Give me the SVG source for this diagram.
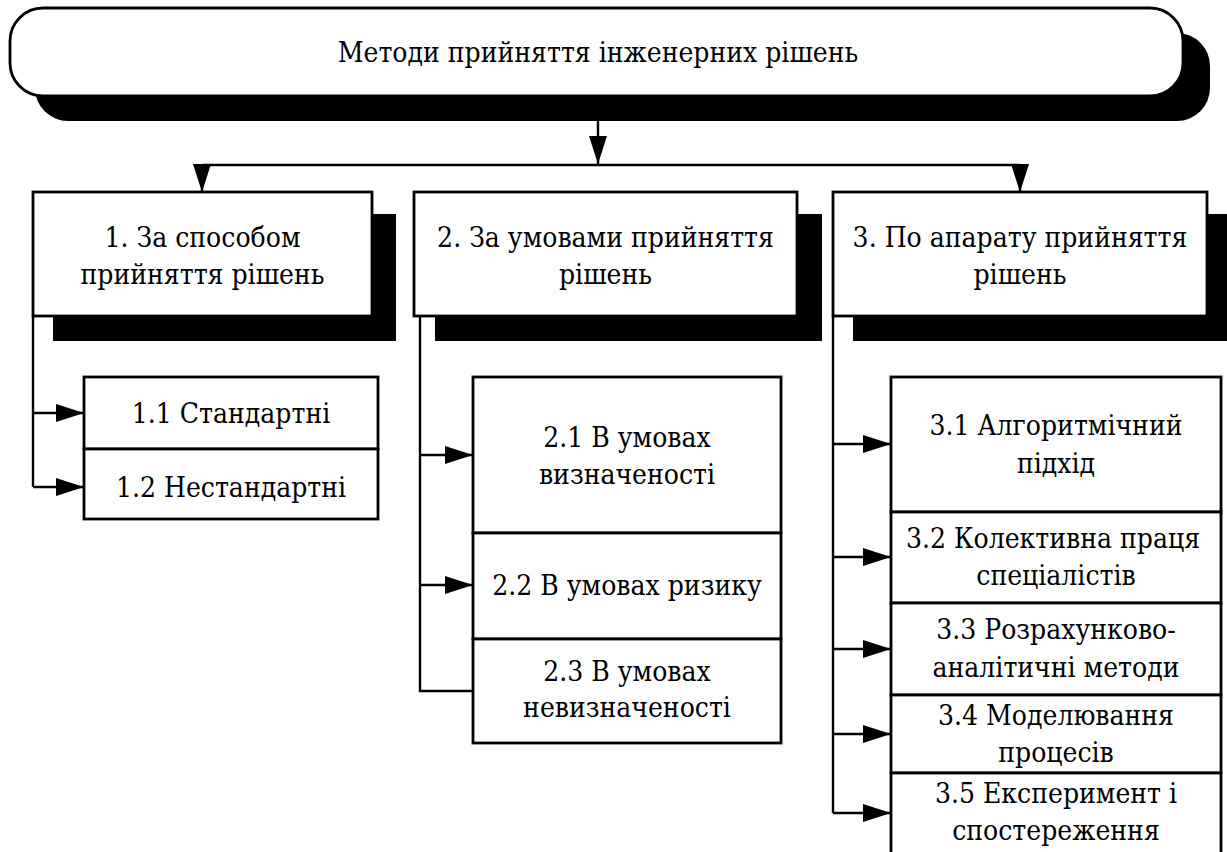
<svg xmlns="http://www.w3.org/2000/svg" width="1227" height="852" viewBox="0 0 1227 852">
  <style>
    .box { fill: #fff; stroke: #000; stroke-width: 2.8; }
    .shadow { fill: #000; stroke: none; }
    .wire { fill: none; stroke: #000; stroke-width: 2.4; }
    .lbl { font-family: "DejaVu Serif", "Liberation Serif", serif; font-stretch: condensed; font-size: 28px; fill: #000; text-anchor: middle; }
  </style>
  <defs>
    <marker id="arrow" markerUnits="userSpaceOnUse" markerWidth="28" markerHeight="18" refX="28" refY="9" orient="auto">
      <path d="M0,0 L28,9 L0,18 z" fill="#000"/>
    </marker>
  </defs>
  <rect width="1227" height="852" fill="#fff"/>

  <!-- Root -->
  <g id="root">
    <rect class="shadow" x="35" y="33" width="1175" height="88" rx="33" ry="33"/>
    <rect class="box" x="10" y="8" width="1173" height="88" rx="33" ry="33"/>
    <text class="lbl" x="598" y="62">Методи прийняття інженерних рішень</text>
  </g>

  <!-- Connectors -->
  <g id="connectors">
    <path class="wire" d="M598,121 V164" marker-end="url(#arrow)"/>
    <path class="wire" d="M202,165 H1020"/>
    <path class="wire" d="M202,165 V192" marker-end="url(#arrow)"/>
    <path class="wire" d="M1020,165 V192" marker-end="url(#arrow)"/>

    <path class="wire" d="M33,316 V487"/>
    <path class="wire" d="M33,413 H84" marker-end="url(#arrow)"/>
    <path class="wire" d="M33,487 H84" marker-end="url(#arrow)"/>

    <path class="wire" d="M420,316 V691 H473"/>
    <path class="wire" d="M420,455 H473" marker-end="url(#arrow)"/>
    <path class="wire" d="M420,585 H473" marker-end="url(#arrow)"/>

    <path class="wire" d="M833,316 V813"/>
    <path class="wire" d="M833,444 H891" marker-end="url(#arrow)"/>
    <path class="wire" d="M833,557 H891" marker-end="url(#arrow)"/>
    <path class="wire" d="M833,649 H891" marker-end="url(#arrow)"/>
    <path class="wire" d="M833,734 H891" marker-end="url(#arrow)"/>
    <path class="wire" d="M833,813 H891" marker-end="url(#arrow)"/>
  </g>

  <!-- Group 1 -->
  <g id="n1">
    <rect class="shadow" x="53" y="214" width="343" height="127"/>
    <rect class="box" x="33" y="192" width="339" height="124"/>
    <text class="lbl" x="202.5" y="247">1. За способом</text>
    <text class="lbl" x="202.5" y="284">прийняття рішень</text>
  </g>
  <g id="n1_1">
    <rect class="box" x="84" y="377" width="294" height="72"/>
    <text class="lbl" x="231" y="423">1.1 Стандартні</text>
  </g>
  <g id="n1_2">
    <rect class="box" x="84" y="449" width="294" height="70"/>
    <text class="lbl" x="231" y="497">1.2 Нестандартні</text>
  </g>

  <!-- Group 2 -->
  <g id="n2">
    <rect class="shadow" x="435" y="214" width="387" height="127"/>
    <rect class="box" x="414" y="192" width="383" height="124"/>
    <text class="lbl" x="605.5" y="247">2. За умовами прийняття</text>
    <text class="lbl" x="605.5" y="284">рішень</text>
  </g>
  <g id="n2_1">
    <rect class="box" x="473" y="377" width="308" height="156"/>
    <text class="lbl" x="627" y="447">2.1 В умовах</text>
    <text class="lbl" x="627" y="484">визначеності</text>
  </g>
  <g id="n2_2">
    <rect class="box" x="473" y="533" width="308" height="106"/>
    <text class="lbl" x="627" y="595">2.2 В умовах ризику</text>
  </g>
  <g id="n2_3">
    <rect class="box" x="473" y="639" width="308" height="104"/>
    <text class="lbl" x="627" y="681">2.3 В умовах</text>
    <text class="lbl" x="627" y="717">невизначеності</text>
  </g>

  <!-- Group 3 -->
  <g id="n3">
    <rect class="shadow" x="853" y="214" width="378" height="127"/>
    <rect class="box" x="833" y="192" width="374" height="124"/>
    <text class="lbl" x="1020" y="247">3. По апарату прийняття</text>
    <text class="lbl" x="1020" y="284">рішень</text>
  </g>
  <g id="n3_1">
    <rect class="box" x="891" y="377" width="330" height="135"/>
    <text class="lbl" x="1056" y="435">3.1 Алгоритмічний</text>
    <text class="lbl" x="1056" y="473">підхід</text>
  </g>
  <g id="n3_2">
    <rect class="box" x="891" y="512" width="330" height="91"/>
    <text class="lbl" x="1053" y="548">3.2 Колективна праця</text>
    <text class="lbl" x="1056" y="585">спеціалістів</text>
  </g>
  <g id="n3_3">
    <rect class="box" x="891" y="603" width="330" height="92"/>
    <text class="lbl" x="1056" y="639">3.3 Розрахунково-</text>
    <text class="lbl" x="1056" y="677">аналітичні методи</text>
  </g>
  <g id="n3_4">
    <rect class="box" x="891" y="695" width="330" height="78"/>
    <text class="lbl" x="1056" y="725">3.4 Моделювання</text>
    <text class="lbl" x="1056" y="762">процесів</text>
  </g>
  <g id="n3_5">
    <rect class="box" x="891" y="773" width="330" height="82"/>
    <text class="lbl" x="1056" y="803">3.5 Експеримент і</text>
    <text class="lbl" x="1056" y="840">спостереження</text>
  </g>
</svg>
